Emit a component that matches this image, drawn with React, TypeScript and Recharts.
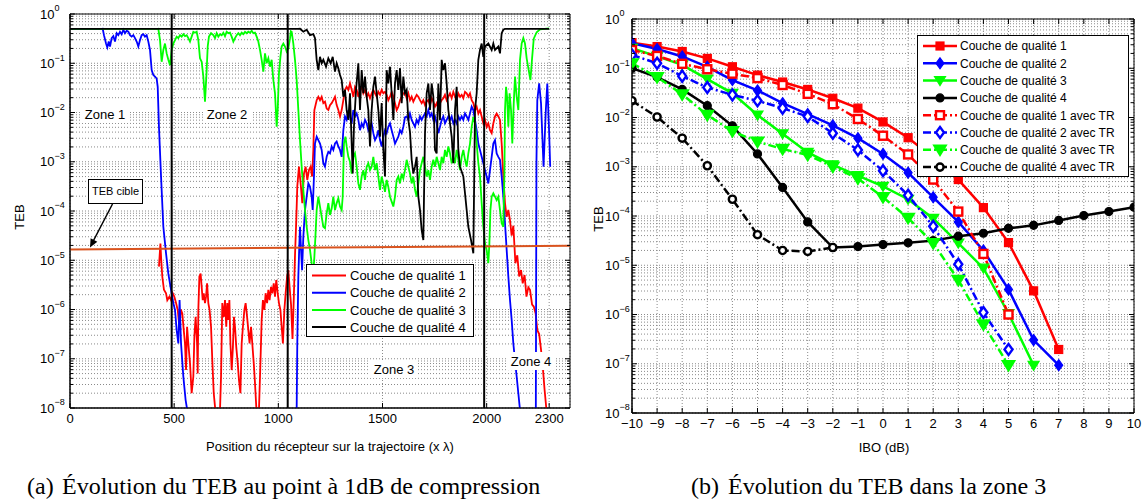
import React from "react";
import { CartesianGrid, Line, LineChart, ReferenceArea, ReferenceLine, XAxis, YAxis } from "recharts";

type Pt = [number, number];

// (a) TEB along the receiver trajectory: [position, log10(TEB)]
const layer1Trace: Pt[] = [
  [427, -5.13], [434, -4.66], [438, -5.0], [443, -5.33], [451, -5.6], [461, -5.67], [467, -5.81], [477, -5.74],
  [485, -5.81], [493, -5.67], [501, -5.74], [509, -5.87], [517, -6.01], [525, -6.35], [532, -6.0], [539, -6.08],
  [546, -6.42], [552, -6.69], [557, -7.23], [562, -6.35], [568, -6.69], [576, -7.09], [584, -7.7], [592, -7.36],
  [597, -6.55], [603, -6.15], [610, -6.69], [613, -7.3], [616, -6.01], [621, -5.33], [627, -5.27], [632, -5.54],
  [637, -5.81], [642, -5.67], [648, -5.87], [653, -5.74], [658, -5.47], [664, -5.87], [670, -6.01], [677, -6.35],
  [683, -7.03], [690, -7.7], [696, -7.97], [704, -8.2], [712, -8.2], [720, -8.04], [725, -7.36], [731, -5.87],
  [738, -6.15], [744, -5.81], [750, -6.35], [755, -5.87], [760, -6.21], [765, -5.81], [770, -6.69], [776, -7.23],
  [782, -6.76], [787, -6.15], [792, -6.35], [798, -6.76], [805, -7.09], [811, -7.43], [818, -7.7], [824, -6.69],
  [830, -6.35], [837, -6.01], [843, -5.87], [850, -6.15], [856, -6.42], [862, -6.69], [869, -6.35], [875, -6.69],
  [882, -7.09], [888, -7.5], [894, -7.97], [901, -8.2], [907, -8.04], [914, -7.09], [920, -6.21], [926, -5.81],
  [933, -6.01], [939, -5.67], [946, -5.87], [952, -5.6], [958, -5.81], [965, -5.54], [971, -5.67], [978, -5.47],
  [984, -5.74], [990, -5.4], [997, -5.67], [1003, -5.87], [1010, -6.01], [1016, -6.35], [1022, -6.69], [1029, -6.01],
  [1035, -5.67], [1042, -5.33], [1048, -5.2], [1054, -5.54], [1061, -5.9], [1068, -6.6], [1074, -5.8], [1080, -4.9],
  [1086, -4.2], [1091, -3.5], [1099, -3.1], [1107, -3.44], [1115, -3.84], [1123, -3.24], [1131, -3.1], [1139, -3.37],
  [1147, -3.17], [1155, -3.1], [1162, -3.3], [1168, -2.76], [1173, -1.95], [1184, -1.75], [1192, -1.68], [1200, -1.75],
  [1208, -1.68], [1216, -1.81], [1224, -1.78], [1232, -1.92], [1240, -1.95], [1248, -1.85], [1256, -1.81], [1264, -1.75],
  [1272, -1.68], [1280, -1.85], [1288, -1.95], [1296, -2.08], [1304, -1.95], [1312, -1.75], [1320, -1.54], [1328, -1.48],
  [1336, -1.54], [1344, -1.41], [1352, -1.54], [1360, -1.68], [1368, -1.48], [1376, -1.54], [1384, -1.68], [1392, -1.54],
  [1400, -1.48], [1408, -1.61], [1416, -1.54], [1424, -1.68], [1432, -1.61], [1440, -1.71], [1448, -1.61], [1456, -1.54],
  [1464, -1.61], [1472, -1.68], [1480, -1.58], [1488, -1.64], [1496, -1.54], [1504, -1.61], [1512, -1.58], [1520, -1.64],
  [1528, -1.75], [1536, -1.68], [1544, -1.58], [1552, -1.68], [1560, -1.81], [1568, -1.95], [1576, -1.88], [1584, -1.75],
  [1592, -1.68], [1600, -1.61], [1608, -1.6], [1616, -1.71], [1624, -1.61], [1632, -1.75], [1640, -1.68], [1648, -1.78],
  [1656, -1.71], [1664, -1.64], [1672, -1.68], [1680, -1.75], [1688, -1.81], [1696, -1.75], [1704, -1.85], [1712, -1.78],
  [1720, -1.75], [1728, -1.85], [1736, -1.71], [1744, -1.78], [1752, -1.88], [1760, -1.81], [1768, -1.92], [1776, -1.81],
  [1784, -1.75], [1792, -1.71], [1800, -1.64], [1808, -1.75], [1816, -1.68], [1824, -1.61], [1832, -1.71], [1840, -1.58],
  [1848, -1.68], [1856, -1.75], [1864, -1.61], [1872, -1.68], [1880, -1.64], [1888, -1.71], [1896, -1.58], [1904, -1.61],
  [1912, -1.68], [1920, -1.61], [1928, -1.75], [1936, -1.81], [1944, -1.95], [1952, -1.88], [1960, -2.02], [1968, -1.95],
  [1976, -2.08], [1984, -2.22], [1992, -2.15], [2000, -2.29], [2008, -2.22], [2016, -2.36], [2024, -2.42], [2032, -2.22],
  [2040, -2.08], [2048, -2.02], [2056, -2.08], [2064, -2.15], [2072, -2.63], [2080, -3.3], [2088, -3.84], [2096, -4.12],
  [2104, -3.98], [2112, -4.19], [2120, -4.5], [2128, -4.3], [2138, -5.06], [2147, -4.9], [2156, -5.33], [2165, -5.2],
  [2173, -5.47], [2182, -5.3], [2191, -5.74], [2200, -5.55], [2208, -5.6], [2218, -5.9], [2226, -5.94], [2235, -6.08],
  [2243, -6.42], [2252, -6.5], [2261, -6.82], [2270, -7.2], [2278, -7.63], [2287, -8.04], [2292, -8.3],
];

const layer2Trace: Pt[] = [
  [0, -0.301], [150, -0.301], [157, -0.3], [163, -0.43], [173, -0.6], [179, -0.68], [186, -0.56], [192, -0.66],
  [200, -0.49], [208, -0.45], [216, -0.56], [224, -0.39], [232, -0.43], [240, -0.36], [248, -0.41], [256, -0.32],
  [264, -0.39], [272, -0.34], [280, -0.36], [288, -0.43], [296, -0.46], [304, -0.43], [312, -0.49], [320, -0.56],
  [328, -0.66], [336, -0.53], [344, -0.43], [352, -0.41], [360, -0.46], [368, -0.43], [376, -0.56], [384, -0.73],
  [392, -1.14], [400, -1.24], [408, -1.27], [416, -1.31], [421, -1.48], [427, -2.29], [437, -3.3], [448, -4.32],
  [461, -4.86], [472, -5.27], [485, -5.6], [496, -5.87], [504, -6.01], [512, -6.42], [520, -6.69], [526, -5.81],
  [533, -6.69], [544, -7.36], [555, -7.84], [565, -8.1], [572, -8.4], [1080, -8.4], [1088, -8.0], [1091, -6.69],
  [1096, -5.33], [1101, -4.66], [1104, -4.32], [1109, -4.79], [1114, -5.2], [1120, -4.52], [1128, -3.98], [1136, -3.71],
  [1144, -3.44], [1152, -3.51], [1160, -3.71], [1165, -3.98], [1171, -3.3], [1176, -2.63], [1184, -2.49], [1192, -2.56],
  [1200, -2.63], [1208, -2.76], [1216, -3.03], [1224, -3.1], [1232, -2.9], [1240, -2.8], [1248, -2.83], [1256, -2.69],
  [1264, -2.76], [1272, -2.63], [1280, -2.59], [1288, -2.69], [1296, -2.76], [1304, -2.9], [1312, -2.36], [1320, -2.08],
  [1328, -2.15], [1336, -1.95], [1344, -2.08], [1352, -2.22], [1360, -1.95], [1368, -2.08], [1376, -2.02], [1384, -2.15],
  [1392, -2.36], [1400, -2.22], [1408, -2.29], [1416, -2.15], [1424, -2.22], [1432, -2.36], [1440, -2.29], [1448, -2.22],
  [1456, -2.42], [1464, -2.56], [1472, -2.49], [1480, -2.36], [1488, -2.56], [1496, -2.69], [1504, -2.49], [1512, -2.36],
  [1520, -2.42], [1528, -2.29], [1536, -2.22], [1544, -2.36], [1552, -2.49], [1560, -2.63], [1568, -2.56], [1576, -2.49],
  [1584, -2.36], [1592, -2.42], [1600, -2.29], [1608, -2.1], [1616, -2.08], [1624, -2.15], [1632, -2.02], [1640, -2.15],
  [1648, -2.22], [1656, -2.29], [1664, -2.15], [1672, -2.22], [1680, -2.08], [1688, -2.15], [1696, -2.08], [1704, -2.02],
  [1712, -2.08], [1720, -1.95], [1728, -2.08], [1736, -2.02], [1744, -2.15], [1752, -2.08], [1760, -2.22], [1768, -2.42],
  [1776, -2.29], [1784, -2.15], [1792, -2.08], [1800, -2.22], [1808, -2.15], [1816, -2.08], [1824, -2.15], [1832, -2.08],
  [1840, -2.22], [1848, -2.15], [1856, -2.22], [1864, -2.08], [1872, -2.15], [1880, -2.08], [1888, -2.15], [1896, -2.02],
  [1904, -2.08], [1912, -2.15], [1920, -2.02], [1928, -1.88], [1936, -1.95], [1944, -2.15], [1952, -2.36], [1960, -2.63],
  [1968, -2.76], [1976, -2.9], [1984, -3.03], [1992, -3.17], [2000, -3.3], [2008, -3.44], [2016, -3.17], [2024, -2.9],
  [2032, -2.63], [2040, -2.56], [2048, -2.83], [2056, -2.9], [2064, -2.96], [2072, -3.3], [2080, -3.71], [2088, -4.25],
  [2096, -4.79], [2104, -5.33], [2112, -5.81], [2120, -6.21], [2128, -6.69], [2136, -7.03], [2144, -7.36], [2152, -7.7],
  [2160, -8.04], [2168, -8.4], [2230, -8.4], [2236, -8.0], [2239, -3.0], [2243, -1.75], [2252, -1.41], [2261, -1.82],
  [2273, -3.1], [2284, -1.95], [2291, -1.41], [2300, -2.42], [2305, -3.1],
];

const layer3Trace: Pt[] = [
  [0, -0.301], [420, -0.301], [424, -0.3], [432, -0.53], [440, -0.97], [448, -0.73], [456, -0.6], [464, -0.8],
  [472, -0.93], [480, -1.04], [488, -0.73], [496, -0.6], [504, -0.53], [512, -0.46], [520, -0.49], [528, -0.43],
  [536, -0.46], [544, -0.41], [552, -0.45], [560, -0.43], [568, -0.49], [576, -0.56], [584, -0.46], [592, -0.36],
  [600, -0.38], [608, -0.36], [616, -0.53], [624, -0.9], [632, -0.97], [640, -1.27], [648, -1.78], [656, -1.14],
  [661, -0.66], [667, -0.46], [677, -0.39], [688, -0.43], [696, -0.49], [704, -0.39], [712, -0.46], [720, -0.41],
  [728, -0.43], [736, -0.38], [744, -0.45], [752, -0.36], [760, -0.39], [768, -0.38], [776, -0.46], [784, -0.56],
  [792, -0.49], [800, -0.43], [808, -0.39], [816, -0.43], [824, -0.38], [832, -0.41], [840, -0.36], [848, -0.39],
  [856, -0.36], [864, -0.38], [872, -0.34], [880, -0.39], [888, -0.38], [896, -0.46], [904, -0.56], [912, -0.73],
  [920, -0.93], [928, -1.17], [936, -0.8], [944, -1.0], [952, -0.9], [960, -1.07], [968, -0.93], [976, -1.34],
  [984, -1.61], [992, -2.29], [997, -1.95], [1003, -1.2], [1010, -0.87], [1016, -0.66], [1024, -0.6], [1032, -0.66],
  [1040, -0.76], [1048, -0.7], [1056, -0.5], [1060, -0.35], [1064, -0.36], [1072, -0.6], [1080, -0.93], [1088, -1.34],
  [1096, -1.95], [1104, -2.56], [1112, -3.1], [1120, -3.57], [1128, -3.98], [1136, -4.32], [1144, -4.59], [1152, -4.79],
  [1160, -5.06], [1168, -5.27], [1173, -4.93], [1178, -4.52], [1184, -3.98], [1192, -3.71], [1200, -3.91], [1208, -4.12],
  [1216, -4.32], [1224, -4.35], [1232, -4.05], [1240, -3.84], [1248, -4.08], [1256, -3.95], [1264, -3.71], [1272, -3.98],
  [1280, -3.84], [1288, -3.74], [1296, -3.91], [1304, -3.98], [1309, -3.71], [1315, -2.63], [1322, -2.49], [1328, -2.69],
  [1336, -2.9], [1344, -3.0], [1352, -3.24], [1360, -2.9], [1368, -2.83], [1376, -3.1], [1384, -3.44], [1392, -3.57],
  [1400, -3.3], [1408, -3.17], [1416, -3.37], [1424, -3.1], [1432, -3.03], [1440, -3.17], [1448, -3.1], [1456, -2.9],
  [1464, -3.17], [1472, -3.03], [1480, -3.3], [1488, -3.57], [1496, -3.3], [1504, -3.44], [1512, -3.61], [1520, -3.37],
  [1528, -3.51], [1536, -3.71], [1544, -3.81], [1552, -3.91], [1560, -3.71], [1568, -3.37], [1576, -3.3], [1584, -3.44],
  [1592, -3.24], [1600, -3.34], [1608, -3.17], [1616, -2.96], [1624, -3.1], [1632, -3.24], [1640, -3.44], [1648, -3.3],
  [1656, -3.57], [1664, -3.71], [1672, -3.44], [1680, -3.17], [1688, -3.03], [1696, -2.9], [1704, -3.1], [1712, -3.3],
  [1720, -3.17], [1728, -3.37], [1736, -3.1], [1744, -2.96], [1752, -3.1], [1760, -2.9], [1768, -3.03], [1776, -3.17],
  [1784, -2.9], [1792, -3.03], [1800, -2.76], [1808, -2.9], [1816, -2.69], [1824, -2.83], [1832, -3.03], [1840, -2.9],
  [1848, -3.03], [1856, -2.76], [1864, -2.96], [1872, -3.17], [1880, -2.9], [1888, -2.76], [1896, -2.96], [1904, -3.1],
  [1912, -2.83], [1920, -2.63], [1928, -2.29], [1936, -2.09], [1944, -2.22], [1952, -2.63], [1960, -3.03], [1968, -3.3],
  [1976, -3.84], [1984, -4.32], [1992, -4.66], [2000, -4.79], [2008, -5.06], [2013, -4.66], [2018, -3.98], [2024, -3.71],
  [2032, -3.64], [2040, -3.71], [2048, -3.78], [2056, -3.71], [2064, -3.98], [2072, -4.25], [2080, -4.32], [2085, -3.3],
  [2088, -1.95], [2093, -1.48], [2098, -1.68], [2104, -2.29], [2110, -1.61], [2117, -1.95], [2123, -2.63], [2130, -1.81],
  [2136, -1.27], [2144, -1.68], [2152, -1.95], [2160, -0.93], [2168, -0.6], [2176, -0.49], [2184, -0.6], [2192, -0.9],
  [2200, -1.1], [2210, -1.34], [2218, -0.9], [2226, -0.5], [2240, -0.37], [2256, -0.31], [2300, -0.29],
];

const layer4Trace: Pt[] = [
  [0, -0.301], [1094, -0.301], [1104, -0.3], [1120, -0.36], [1136, -0.32], [1152, -0.43], [1168, -0.41], [1176, -0.49],
  [1184, -0.93], [1192, -1.14], [1200, -0.87], [1208, -1.0], [1216, -0.93], [1229, -1.07], [1240, -0.9], [1251, -1.0],
  [1261, -0.87], [1272, -1.17], [1280, -1.0], [1288, -1.1], [1296, -1.24], [1304, -1.34], [1312, -1.68], [1320, -1.54],
  [1328, -1.95], [1336, -2.15], [1344, -1.61], [1352, -2.63], [1357, -3.24], [1363, -2.29], [1373, -1.54], [1384, -1.0],
  [1392, -1.95], [1400, -1.14], [1408, -1.61], [1416, -1.27], [1424, -1.68], [1432, -1.95], [1440, -2.69], [1448, -1.95],
  [1456, -1.48], [1464, -1.27], [1472, -1.61], [1480, -1.95], [1488, -2.49], [1496, -1.81], [1504, -2.76], [1512, -3.3],
  [1520, -1.14], [1528, -1.41], [1536, -1.07], [1544, -1.61], [1552, -2.15], [1560, -1.41], [1568, -1.14], [1576, -1.54],
  [1584, -1.1], [1592, -1.81], [1600, -1.27], [1608, -1.61], [1616, -1.54], [1624, -2.15], [1632, -2.4], [1640, -2.96],
  [1648, -3.24], [1656, -3.1], [1664, -2.9], [1672, -3.71], [1680, -3.98], [1688, -4.39], [1696, -4.59], [1704, -2.42],
  [1712, -1.61], [1720, -1.41], [1728, -1.95], [1736, -1.41], [1744, -1.68], [1752, -2.76], [1760, -2.83], [1768, -1.41],
  [1776, -2.15], [1784, -0.93], [1792, -1.14], [1800, -1.0], [1808, -1.41], [1816, -1.95], [1832, -2.49], [1840, -3.03],
  [1848, -1.95], [1856, -1.48], [1864, -2.76], [1872, -3.1], [1888, -3.3], [1904, -3.98], [1912, -4.32], [1925, -4.59],
  [1936, -4.86], [1944, -1.95], [1952, -1.61], [1960, -0.93], [1968, -0.73], [1976, -0.6], [1984, -0.87], [1992, -0.66],
  [2008, -0.6], [2024, -0.73], [2032, -0.6], [2040, -0.73], [2056, -0.66], [2064, -0.8], [2072, -0.39], [2080, -0.32],
  [2088, -0.3], [2300, -0.3],
];

const targetTeb: Pt[] = [[0, -4.78], [2400, -4.705]];
const zoneBounds = [488, 1045, 1988];
const positionTicks = [0, 500, 1000, 1500, 2000, 2300];
const layerNames = ["Couche de qualité 1", "Couche de qualité 2", "Couche de qualité 3", "Couche de qualité 4"];
const layerColors = ["#ff0000", "#0000ff", "#00ff00", "#000000"];
const zoneLabels = ["Zone 1", "Zone 2", "Zone 3", "Zone 4"];

// (b) TEB vs IBO in zone 3, log10(TEB) per IBO step starting at -10 dB
const iboSteps = [-10, -9, -8, -7, -6, -5, -4, -3, -2, -1, 0, 1, 2, 3, 4, 5, 6, 7, 8, 9, 10];
const q1Log = [-0.48, -0.56, -0.66, -0.8, -0.97, -1.14, -1.28, -1.43, -1.61, -1.81, -2.09, -2.41, -2.82, -3.26, -3.83, -4.54, -5.52, -6.71];
const q2Log = [-0.49, -0.61, -0.76, -0.97, -1.24, -1.45, -1.71, -1.93, -2.16, -2.42, -2.74, -3.12, -3.62, -4.12, -4.7, -5.49, -6.52, -7.03];
const q3Log = [-0.595, -0.76, -0.93, -1.22, -1.51, -1.95, -2.33, -2.71, -2.96, -3.18, -3.4, -3.66, -4.05, -4.55, -5.06, -5.98, -7.03];
const q4Log = [-1.0, -1.18, -1.43, -1.76, -2.17, -2.74, -3.42, -4.12, -4.64, -4.62, -4.58, -4.545, -4.5, -4.41, -4.35, -4.25, -4.19, -4.09, -3.99, -3.91, -3.82];
const q1TrLog = [-0.63, -0.75, -0.91, -1.02, -1.11, -1.2, -1.34, -1.52, -1.73, -2.03, -2.37, -2.75, -3.26, -3.91, -4.77, -6.0];
const q2TrLog = [-0.73, -0.9, -1.16, -1.39, -1.54, -1.66, -1.81, -1.98, -2.32, -2.66, -3.08, -3.58, -4.21, -4.98, -5.96, -6.71];
const q3TrLog = [-0.9, -1.18, -1.53, -1.95, -2.28, -2.49, -2.64, -2.76, -3.0, -3.24, -3.62, -4.04, -4.55, -5.3, -6.2, -7.03];
const q4TrLog = [-1.66, -1.99, -2.42, -2.98, -3.66, -4.38, -4.7, -4.72, -4.64];

const decades = [-8, -7, -6, -5, -4, -3, -2, -1, 0];
const mantissas = [2, 3, 4, 5, 6, 7, 8, 9];
const logTicks = decades.flatMap((d) => (d === 0 ? [1] : [10 ** d, ...mantissas.map((m) => m * 10 ** d)]));

type Shape = "square" | "diamond" | "triangle" | "circle";

const curveSeries = [
  { name: "Couche de qualité 1", values: q1Log, color: "#ff0000", shape: "square" as Shape, tr: false },
  { name: "Couche de qualité 2", values: q2Log, color: "#0000ff", shape: "diamond" as Shape, tr: false },
  { name: "Couche de qualité 3", values: q3Log, color: "#00ff00", shape: "triangle" as Shape, tr: false },
  { name: "Couche de qualité 4", values: q4Log, color: "#000000", shape: "circle" as Shape, tr: false },
  { name: "Couche de qualité 1 avec TR", values: q1TrLog, color: "#ff0000", shape: "square" as Shape, tr: true },
  { name: "Couche de qualité 2 avec TR", values: q2TrLog, color: "#0000ff", shape: "diamond" as Shape, tr: true },
  { name: "Couche de qualité 3 avec TR", values: q3TrLog, color: "#00ff00", shape: "triangle" as Shape, tr: true },
  { name: "Couche de qualité 4 avec TR", values: q4TrLog, color: "#000000", shape: "circle" as Shape, tr: true },
];

const toRows = (pts: Pt[]) => pts.map(([x, e]) => ({ x, teb: 10 ** e }));
const traces = [layer1Trace, layer2Trace, layer3Trace, layer4Trace].map(toRows);
const targetRows = toRows(targetTeb);
const curveRows = curveSeries.map((s) => s.values.map((e, i) => ({ x: iboSteps[i], teb: 10 ** e })));

const SANS = '"Liberation Sans", Arial, Helvetica, sans-serif';
const SERIF = '"Liberation Serif", "Times New Roman", serif';
const TR_DASH = "8 3 2 3";
const GRID = "#8a8a8a";

// y tick: "10^n" label at majors, small inward marks on both sides of the box
function PowerTick(props: any) {
  const { y, payload, left, x0, x1 } = props;
  const e = Math.log10(payload.value);
  const r = Math.round(e);
  const major = Math.abs(e - r) < 1e-6;
  const len = major ? 5 : 3;
  return (
    <g>
      <line x1={x0} x2={x0 + len} y1={y} y2={y} stroke="#000" strokeWidth={1} />
      <line x1={x1 - len} x2={x1} y1={y} y2={y} stroke="#000" strokeWidth={1} />
      {major && (
        <text x={left} y={y} dy="0.36em" fontSize={13} fill="#000" fontFamily={SANS} textAnchor="start">
          10
          <tspan dy="-0.8em" fontSize={9}>
            {r === 0 ? "0" : "\u2212" + Math.abs(r)}
          </tspan>
        </text>
      )}
    </g>
  );
}

// x tick: label plus inward marks at bottom and top of the box
function LinearTick(props: any) {
  const { x, y, payload, bottom, top, fmt } = props;
  const v = payload.value as number;
  return (
    <g>
      <line x1={x} x2={x} y1={bottom} y2={bottom - 5} stroke="#000" strokeWidth={1} />
      <line x1={x} x2={x} y1={top} y2={top + 5} stroke="#000" strokeWidth={1} />
      <text x={x} y={y} dy="0.71em" textAnchor="middle" fontSize={13} fill="#000" fontFamily={SANS}>
        {fmt ? fmt(v) : String(v)}
      </text>
    </g>
  );
}

function Marker({ shape, cx, cy, color, open }: { shape: Shape; cx: number; cy: number; color: string; open: boolean }) {
  const fill = open ? "#fff" : color;
  const sw = open ? 2.4 : 1.2;
  if (shape === "square") return <rect x={cx - 4} y={cy - 4} width={8} height={8} fill={fill} stroke={color} strokeWidth={sw} />;
  if (shape === "diamond")
    return <polygon points={`${cx},${cy - 5.5} ${cx + 4},${cy} ${cx},${cy + 5.5} ${cx - 4},${cy}`} fill={fill} stroke={color} strokeWidth={sw} />;
  if (shape === "triangle")
    return <polygon points={`${cx - 5.5},${cy - 4} ${cx + 5.5},${cy - 4} ${cx},${cy + 5}`} fill={color} stroke={color} strokeWidth={sw} />;
  return <circle cx={cx} cy={cy} r={open ? 3.6 : 4} fill={fill} stroke={color} strokeWidth={sw} />;
}

const markerDot = (shape: Shape, color: string, open: boolean) => (p: any) => {
  if (p.cx == null || p.cy == null) return <g key={`d-${p.index}`} />;
  return <Marker key={`d-${p.index}`} shape={shape} cx={p.cx} cy={p.cy} color={color} open={open} />;
};

const minusFmt = (v: number) => (v < 0 ? "\u2212" + Math.abs(v) : String(v));

function TrajectoryChart() {
  return (
    <LineChart width={572} height={460} margin={{ top: 14, right: 2, bottom: 0, left: 0 }}>
      <CartesianGrid stroke={GRID} strokeDasharray="1 2" />
      <XAxis
        type="number"
        dataKey="x"
        domain={[0, 2400]}
        ticks={positionTicks}
        interval={0}
        allowDataOverflow
        height={52}
        tickLine={false}
        tickSize={4}
        tickMargin={2}
        stroke="#000"
        tick={(p: any) => <LinearTick {...p} bottom={408} top={14} />}
      />
      <YAxis
        type="number"
        scale="log"
        domain={[1e-8, 1]}
        ticks={logTicks}
        interval={0}
        allowDataOverflow
        width={70}
        tickLine={false}
        stroke="#000"
        tick={(p: any) => <PowerTick {...p} left={40} x0={70} x1={570} />}
      />
      <ReferenceArea x1={0} x2={2400} y1={1e-8} y2={1} fill="none" stroke="#000" strokeWidth={1} ifOverflow="visible" />
      {traces.map((rows, i) => (
        <Line
          key={layerNames[i]}
          data={rows}
          dataKey="teb"
          name={layerNames[i]}
          stroke={layerColors[i]}
          strokeWidth={1.8}
          dot={false}
          isAnimationActive={false}
        />
      ))}
      <Line data={targetRows} dataKey="teb" stroke="#d9531e" strokeWidth={2} dot={false} isAnimationActive={false} />
      {zoneBounds.map((x) => (
        <ReferenceLine key={x} x={x} stroke="#000" strokeWidth={2} />
      ))}
    </LineChart>
  );
}

function IboChart() {
  return (
    <LineChart width={572} height={460} margin={{ top: 19, right: 10, bottom: 0, left: 0 }}>
      <CartesianGrid stroke={GRID} strokeDasharray="1 2" />
      <XAxis
        type="number"
        dataKey="x"
        domain={[-10, 10]}
        ticks={iboSteps}
        interval={0}
        allowDataOverflow
        height={47}
        tickLine={false}
        tickSize={4}
        tickMargin={2}
        stroke="#000"
        tick={(p: any) => <LinearTick {...p} bottom={413} top={19} fmt={minusFmt} />}
      />
      <YAxis
        type="number"
        scale="log"
        domain={[1e-8, 1]}
        ticks={logTicks}
        interval={0}
        allowDataOverflow
        width={60}
        tickLine={false}
        stroke="#000"
        tick={(p: any) => <PowerTick {...p} left={33} x0={60} x1={562} />}
      />
      <ReferenceArea x1={-10} x2={10} y1={1e-8} y2={1} fill="none" stroke="#000" strokeWidth={1} ifOverflow="visible" />
      {curveSeries.map((s, i) => (
        <Line
          key={s.name}
          data={curveRows[i]}
          dataKey="teb"
          name={s.name}
          stroke={s.color}
          strokeWidth={2.5}
          strokeDasharray={s.tr ? TR_DASH : undefined}
          dot={markerDot(s.shape, s.color, s.tr)}
          isAnimationActive={false}
        />
      ))}
    </LineChart>
  );
}

function LayerLegend() {
  return (
    <div style={{ position: "absolute", left: 306, top: 264, width: 168, height: 73, border: "1px solid #000", background: "#fff", boxSizing: "border-box" }}>
      <svg width={166} height={71}>
        {layerNames.map((n, i) => (
          <g key={n} transform={`translate(0, ${10.5 + i * 17.2})`}>
            <line x1={5} x2={39} y1={0} y2={0} stroke={layerColors[i]} strokeWidth={2} />
            <text x={43} y={0} dy="0.36em" fontSize={13} fontFamily={SANS} fill="#000">
              {n}
            </text>
          </g>
        ))}
      </svg>
    </div>
  );
}

function CurveLegend() {
  return (
    <div style={{ position: "absolute", left: 917, top: 35, width: 212, height: 142, border: "1px solid #000", background: "#fff", boxSizing: "border-box" }}>
      <svg width={210} height={140}>
        {curveSeries.map((s, i) => (
          <g key={s.name} transform={`translate(0, ${10 + i * 17.3})`}>
            <line x1={5} x2={39} y1={0} y2={0} stroke={s.color} strokeWidth={2.5} strokeDasharray={s.tr ? TR_DASH : undefined} />
            <Marker shape={s.shape} cx={22} cy={0} color={s.color} open={s.tr} />
            <text x={42} y={0} dy="0.36em" fontSize={12} fontFamily={SANS} fill="#000">
              {s.name}
            </text>
          </g>
        ))}
      </svg>
    </div>
  );
}

function Annotations() {
  const zoneBoxes = [
    { x: 105, y: 114 },
    { x: 227, y: 114 },
    { x: 394, y: 369 },
    { x: 531, y: 361 },
  ];
  return (
    <svg width={1144} height={502} style={{ position: "absolute", left: 0, top: 0, pointerEvents: "none" }}>
      {zoneBoxes.map((z, i) => (
        <g key={zoneLabels[i]}>
          <rect x={z.x - 24} y={z.y - 9} width={48} height={18} fill="#fff" />
          <text x={z.x} y={z.y} dy="0.36em" textAnchor="middle" fontSize={13} fontFamily={SANS} fill="#000">
            {zoneLabels[i]}
          </text>
        </g>
      ))}
      <rect x={88.5} y={179.5} width={54} height={24} fill="#fff" stroke="#000" strokeWidth={1} />
      <text x={115.5} y={191.5} dy="0.36em" textAnchor="middle" fontSize={11} fontFamily={SANS} fill="#000">
        TEB cible
      </text>
      <line x1={112.5} y1={204} x2={93.5} y2={240.5} stroke="#000" strokeWidth={1.5} />
      <polygon points="90,247.5 97.3,241.8 90.6,238.2" fill="#000" />

      <text transform="translate(19,217) rotate(-90)" textAnchor="middle" dy="0.36em" fontSize={13} fontFamily={SANS} fill="#000">
        TEB
      </text>
      <text x={330} y={446} dy="0.36em" textAnchor="middle" fontSize={13} fontFamily={SANS} fill="#000">
        Position du récepteur sur la trajectoire (x λ)
      </text>
      <text transform="translate(598,219) rotate(-90)" textAnchor="middle" dy="0.36em" fontSize={13} fontFamily={SANS} fill="#000">
        TEB
      </text>
      <text x={884} y={447} dy="0.36em" textAnchor="middle" fontSize={13} fontFamily={SANS} fill="#000">
        IBO (dB)
      </text>

      <text x={27} y={486} dy="0.33em" fontSize={24} fontFamily={SERIF} fill="#000">
        (a)
      </text>
      <text x={62} y={486} dy="0.33em" fontSize={24} fontFamily={SERIF} fill="#000">
        Évolution du TEB au point à 1dB de compression
      </text>
      <text x={691} y={486} dy="0.33em" fontSize={24} fontFamily={SERIF} fill="#000">
        (b)
      </text>
      <text x={728} y={486} dy="0.33em" fontSize={24} fontFamily={SERIF} fill="#000">
        Évolution du TEB dans la zone 3
      </text>
    </svg>
  );
}

export default function App() {
  return (
    <div style={{ position: "absolute", left: 0, top: 0, width: 1144, height: 502, background: "#fff", fontFamily: SANS, overflow: "hidden" }}>
      <div style={{ position: "absolute", left: 0, top: 0 }}>
        <TrajectoryChart />
      </div>
      <div style={{ position: "absolute", left: 572, top: 0 }}>
        <IboChart />
      </div>
      <LayerLegend />
      <CurveLegend />
      <Annotations />
    </div>
  );
}
